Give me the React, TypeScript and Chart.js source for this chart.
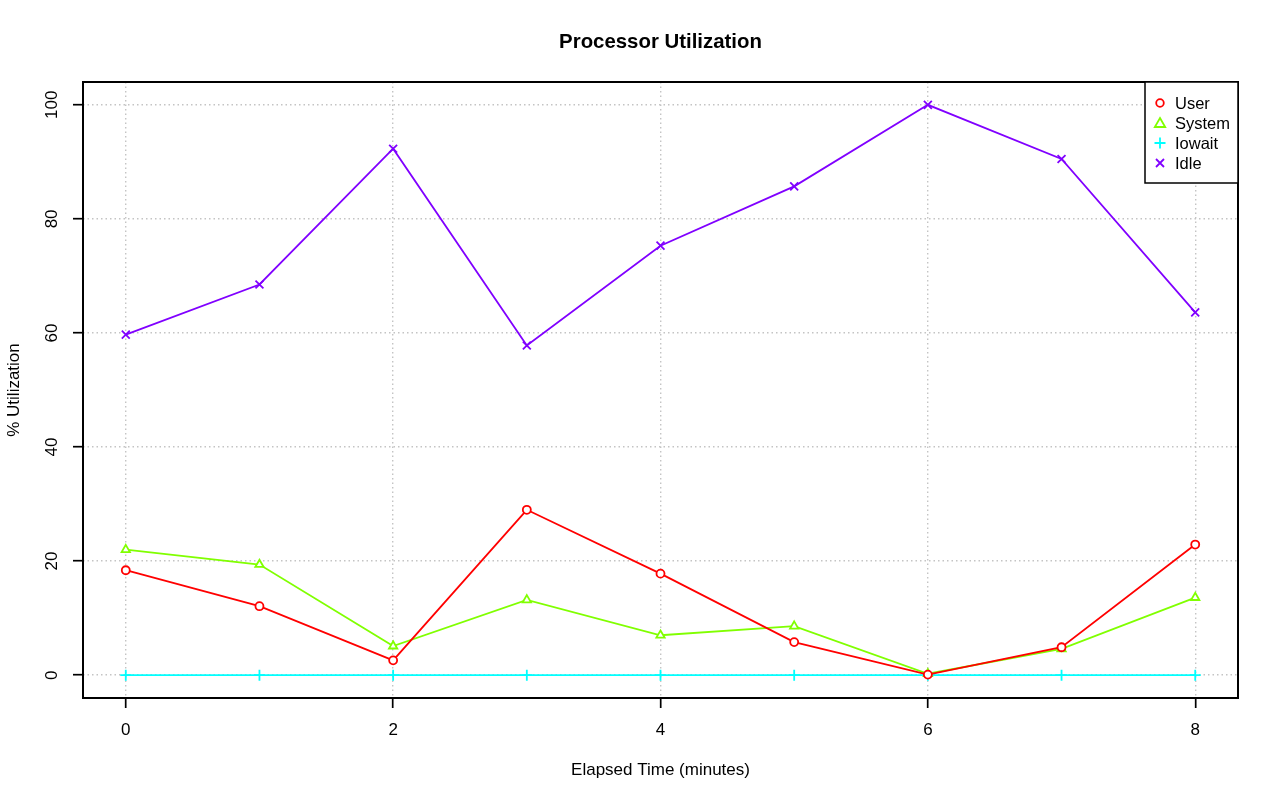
import React, { useEffect, useRef } from 'react';
import { Chart, registerables } from 'chart.js';

Chart.register(...registerables);

const minutes = [0, 1, 2, 3, 4, 5, 6, 7, 8];
const userVals = [18.4, 12.1, 2.6, 29.0, 17.8, 5.8, 0.1, 4.9, 22.9];
const systemVals = [22.0, 19.4, 5.1, 13.2, 7.0, 8.6, 0.25, 4.6, 13.6];
const iowaitVals = [0, 0, 0, 0, 0, 0, 0, 0, 0];
const idleVals = [59.7, 68.5, 92.3, 57.8, 75.3, 85.7, 100, 90.5, 63.6];
const xTicks = [0, 2, 4, 6, 8];
const yTicks = [0, 20, 40, 60, 80, 100];
const seriesNames = ['User', 'System', 'Iowait', 'Idle'];
const seriesColors = ['#FF0000', '#80FF00', '#00FFFF', '#8000FF'];
const seriesStyles = ['circle', 'triangle', 'cross', 'crossRot'];
const seriesRadius = [4, 4.8, 5.5, 5.6];

const FONT = '"Liberation Sans", Arial, Helvetica, sans-serif';

const decorPlugin = {
  id: 'decor',
  afterDraw(chart: any) {
    const ctx = chart.ctx;
    const ca = chart.chartArea;
    const xs = chart.scales.x;
    const ys = chart.scales.y;
    ctx.save();
    // box
    ctx.strokeStyle = '#000';
    ctx.lineWidth = 2;
    ctx.strokeRect(ca.left, ca.top, ca.right - ca.left, ca.bottom - ca.top);

    ctx.fillStyle = '#000';
    // title
    ctx.font = `bold 20.4px ${FONT}`;
    ctx.textAlign = 'center';
    ctx.textBaseline = 'middle';
    ctx.fillText('Processor Utilization', (ca.left + ca.right) / 2, 42);

    // x tick labels
    ctx.font = `17px ${FONT}`;
    xTicks.forEach((v) => {
      ctx.fillText(String(v), xs.getPixelForValue(v), 730);
    });
    // x title
    ctx.fillText('Elapsed Time (minutes)', (ca.left + ca.right) / 2, 770);

    // y tick labels (rotated)
    yTicks.forEach((v) => {
      ctx.save();
      ctx.translate(52, ys.getPixelForValue(v));
      ctx.rotate(-Math.PI / 2);
      ctx.fillText(String(v), 0, 0);
      ctx.restore();
    });
    // y title
    ctx.save();
    ctx.translate(14, (ca.top + ca.bottom) / 2);
    ctx.rotate(-Math.PI / 2);
    ctx.fillText('% Utilization', 0, 0);
    ctx.restore();

    // legend
    const lx = 1145;
    const ly = ca.top;
    const lw = ca.right - lx;
    const lh = 101;
    ctx.fillStyle = '#fff';
    ctx.fillRect(lx, ly, lw, lh);
    ctx.strokeStyle = '#000';
    ctx.lineWidth = 1.5;
    ctx.strokeRect(lx, ly, lw, lh);
    ctx.font = `16.5px ${FONT}`;
    ctx.textAlign = 'left';
    ctx.textBaseline = 'middle';
    seriesNames.forEach((name, i) => {
      const cy = ly + 21 + i * 20;
      const cx = lx + 15;
      ctx.strokeStyle = seriesColors[i];
      ctx.lineWidth = 1.8;
      ctx.beginPath();
      if (i === 0) {
        ctx.arc(cx, cy, 3.8, 0, Math.PI * 2);
      } else if (i === 1) {
        ctx.moveTo(cx, cy - 5);
        ctx.lineTo(cx + 5.2, cy + 4);
        ctx.lineTo(cx - 5.2, cy + 4);
        ctx.closePath();
      } else if (i === 2) {
        ctx.moveTo(cx - 5.5, cy);
        ctx.lineTo(cx + 5.5, cy);
        ctx.moveTo(cx, cy - 5.5);
        ctx.lineTo(cx, cy + 5.5);
      } else {
        ctx.moveTo(cx - 4, cy - 4);
        ctx.lineTo(cx + 4, cy + 4);
        ctx.moveTo(cx + 4, cy - 4);
        ctx.lineTo(cx - 4, cy + 4);
      }
      ctx.stroke();
      ctx.fillStyle = '#000';
      ctx.fillText(name, lx + 30, cy + 1);
    });
    ctx.restore();
  },
};

export default function App() {
  const ref = useRef<HTMLCanvasElement | null>(null);
  useEffect(() => {
    document.body.style.margin = '0';
    const canvas = ref.current!;
    const seriesVals = [userVals, systemVals, iowaitVals, idleVals];
    const datasets = seriesNames.map((name, i) => ({
      label: name,
      data: minutes.map((m, j) => ({ x: m, y: seriesVals[i][j] })),
      borderColor: seriesColors[i],
      borderWidth: 1.8,
      pointStyle: seriesStyles[i],
      pointRadius: seriesRadius[i],
      pointBorderWidth: 1.8,
      pointBorderColor: seriesColors[i],
      pointBackgroundColor: i < 2 ? '#ffffff' : seriesColors[i],
      tension: 0,
      fill: false,
      clip: false as any,
    }));
    const gridOpts = {
      color: '#C4C4C4',
      lineWidth: 1.4,
      drawTicks: true,
      tickLength: 10,
      tickColor: '#000',
      tickWidth: 1.7,
      tickBorderDash: [],
    };
    const chart = new Chart(canvas, {
      type: 'line',
      data: { datasets },
      options: {
        animation: false,
        responsive: false,
        devicePixelRatio: 1,
        layout: { padding: { left: 0, top: 82, right: 42, bottom: 0 } },
        plugins: { legend: { display: false }, title: { display: false }, tooltip: { enabled: false } },
        scales: {
          x: {
            type: 'linear',
            min: -0.32,
            max: 8.32,
            afterBuildTicks: (s: any) => {
              s.ticks = xTicks.map((v) => ({ value: v }));
            },
            afterFit: (s: any) => {
              s.height = 103;
            },
            ticks: { display: false },
            grid: gridOpts,
            border: { display: false, dash: [1.5, 3] },
          },
          y: {
            type: 'linear',
            min: -4,
            max: 104,
            afterBuildTicks: (s: any) => {
              s.ticks = yTicks.map((v) => ({ value: v }));
            },
            afterFit: (s: any) => {
              s.width = 83;
            },
            ticks: { display: false },
            grid: gridOpts,
            border: { display: false, dash: [1.5, 3] },
          },
        },
      },
      plugins: [decorPlugin],
    });
    return () => chart.destroy();
  }, []);
  return (
    <div style={{ width: 1280, height: 801, background: '#fff' }}>
      <canvas ref={ref} width={1280} height={801} style={{ display: 'block' }} />
    </div>
  );
}
